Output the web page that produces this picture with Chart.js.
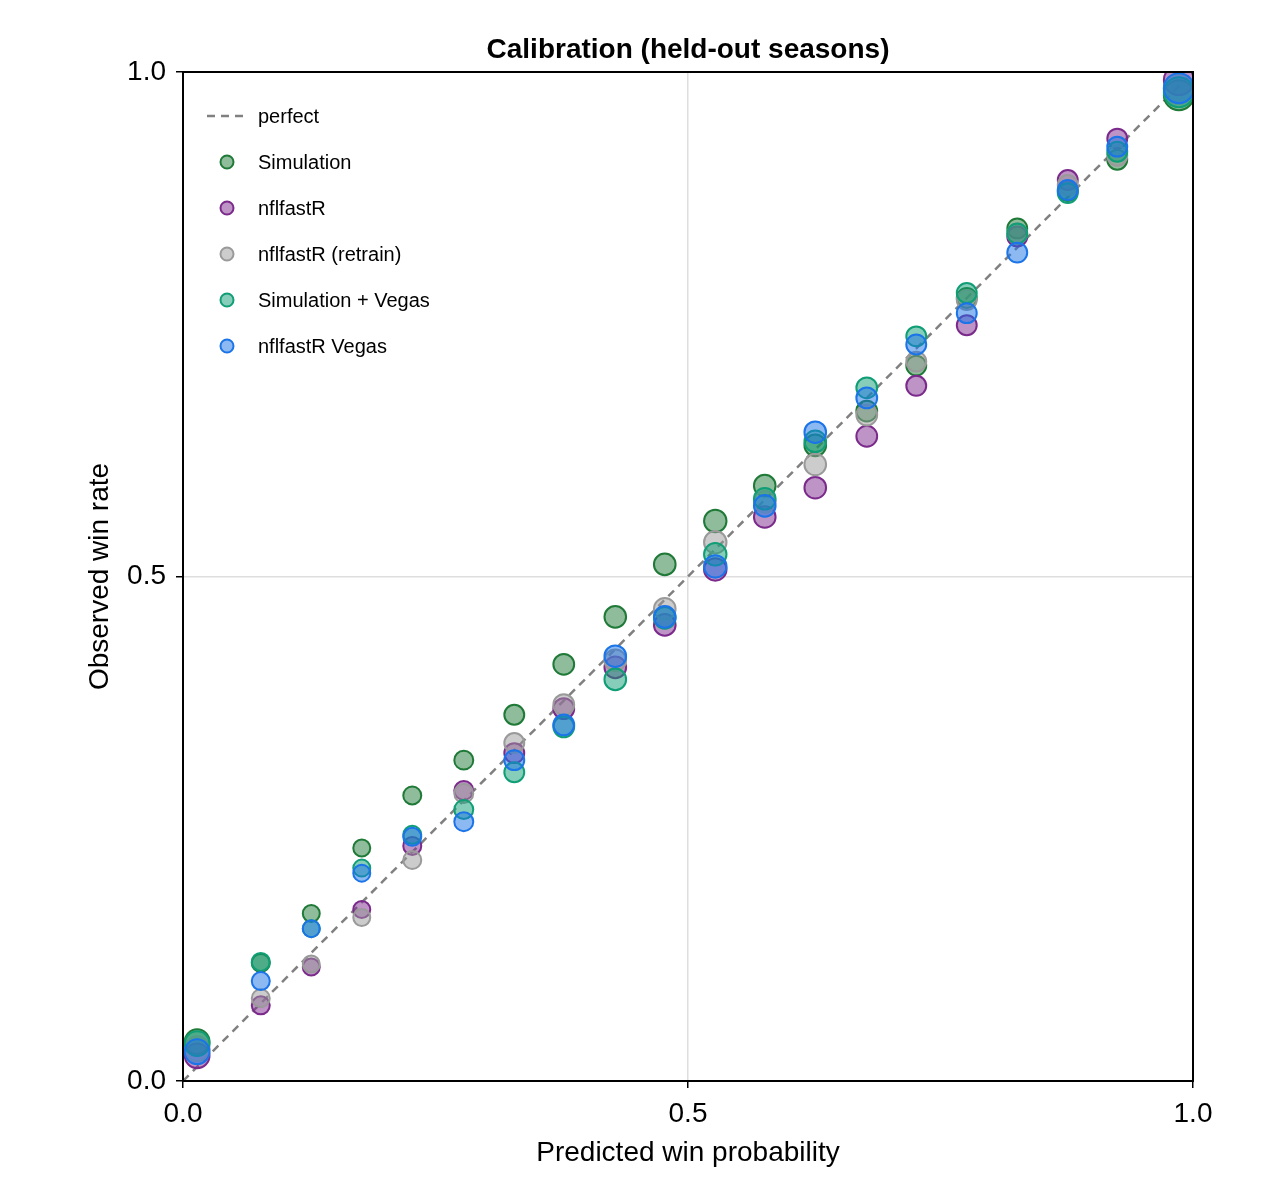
<!DOCTYPE html>
<html>
<head>
<meta charset="utf-8">
<script src="https://cdn.jsdelivr.net/npm/chart.js@4.4.1/dist/chart.umd.min.js"></script>
<style>
  body { margin: 0; background: #fff; }
  canvas { display: block; }
</style>
</head>
<body>
<canvas id="calib" width="1280" height="1200"></canvas>
<script>
// mean predicted probability per bin (x), shared by all models
const binX = [0.014, 0.077, 0.127, 0.177, 0.227, 0.278, 0.328, 0.377, 0.428, 0.477,
              0.527, 0.576, 0.626, 0.677, 0.726, 0.776, 0.826, 0.876, 0.925, 0.986];
// relative number of plays in each bin (drives marker size)
const binWeight = [17, 9, 8, 8, 9, 10, 11, 12, 13, 13, 14, 13, 13, 12, 11, 11, 11, 11, 11, 25];

// observed win rate per bin
const simY      = [0.039, 0.117, 0.166, 0.231, 0.283, 0.318, 0.363, 0.413, 0.460, 0.512,
                   0.555, 0.590, 0.630, 0.664, 0.709, 0.776, 0.845, 0.882, 0.913, 0.977];
const nflY      = [0.025, 0.075, 0.113, 0.170, 0.233, 0.288, 0.325, 0.369, 0.410, 0.452,
                   0.507, 0.559, 0.588, 0.639, 0.689, 0.749, 0.837, 0.893, 0.934, 0.992];
const retrainY  = [0.032, 0.082, 0.116, 0.162, 0.219, 0.285, 0.335, 0.373, 0.417, 0.468,
                   0.534, 0.574, 0.611, 0.660, 0.713, 0.774, 0.840, 0.888, 0.917, 0.983];
const simVegasY = [0.037, 0.118, 0.151, 0.211, 0.244, 0.269, 0.306, 0.351, 0.398, 0.459,
                   0.522, 0.577, 0.634, 0.687, 0.738, 0.781, 0.840, 0.880, 0.921, 0.980];
const nflVegasY = [0.029, 0.099, 0.151, 0.206, 0.242, 0.257, 0.318, 0.353, 0.421, 0.460,
                   0.510, 0.570, 0.643, 0.677, 0.730, 0.761, 0.821, 0.883, 0.926, 0.984];

const perfectX = [0, 1];
const perfectY = [0, 1];
const axisTicks = [0, 0.5, 1];

const seriesNames = ["Simulation", "nflfastR", "nflfastR (retrain)", "Simulation + Vegas", "nflfastR Vegas"];
const seriesY = [simY, nflY, retrainY, simVegasY, nflVegasY];
const strokeCols = ["#1f7a38", "#7b2a8c", "#9a9a9a", "#0f9e76", "#1b74e8"];
const fillCols = ["rgba(31,122,56,0.5)", "rgba(123,42,140,0.5)", "rgba(154,154,154,0.5)",
                  "rgba(15,158,118,0.5)", "rgba(27,116,232,0.5)"];

const FONT = "'Liberation Sans', Arial, sans-serif";

function toPoints(xs, ys){
    let pts = [];
    for(let i = 0; i < xs.length; i++) pts.push({x: xs[i], y: ys[i]});
    return pts;
}

let datasets = [{
    type: "line",
    label: "perfect",
    data: toPoints(perfectX, perfectY),
    borderColor: "#808080",
    borderWidth: 2.5,
    borderDash: [8, 6],
    pointRadius: 0,
    fill: false,
    order: 10
}];
for(let s = 0; s < seriesNames.length; s++){
    datasets.push({
        label: seriesNames[s],
        data: toPoints(binX, seriesY[s]),
        backgroundColor: fillCols[s],
        borderColor: strokeCols[s],
        borderWidth: 2,
        pointRadius: binWeight.map(w => 3 * Math.sqrt(w)),
        order: 5 - s
    });
}

//frame, title and the in-plot legend
const decor = {
    id: "decor",
    afterDraw(chart){
        const c = chart.ctx;
        const a = chart.chartArea;
        c.save();
        c.strokeStyle = "#000";
        c.lineWidth = 2;
        c.strokeRect(a.left, a.top, a.right - a.left, a.bottom - a.top);

        c.fillStyle = "#000";
        c.font = "bold 28px " + FONT;
        c.textAlign = "center";
        c.textBaseline = "middle";
        c.fillText("Calibration (held-out seasons)", (a.left + a.right) / 2, 50);

        c.font = "20px " + FONT;
        c.textAlign = "left";
        let y = 116;
        c.setLineDash([8, 6]);
        c.strokeStyle = "#808080";
        c.lineWidth = 2.5;
        c.beginPath();
        c.moveTo(207, y);
        c.lineTo(249, y);
        c.stroke();
        c.setLineDash([]);
        c.fillStyle = "#000";
        c.fillText("perfect", 258, y + 1);
        for(let s = 0; s < seriesNames.length; s++){
            y += 46;
            c.beginPath();
            c.arc(227, y, 6.5, 0, Math.PI * 2);
            c.fillStyle = fillCols[s];
            c.fill();
            c.lineWidth = 2;
            c.strokeStyle = strokeCols[s];
            c.stroke();
            c.fillStyle = "#000";
            c.fillText(seriesNames[s], 258, y + 1);
        }
        c.restore();
    }
};

function gridCol(ctx){
    return ctx.tick && ctx.tick.value === 0.5 ? "#dedede" : "rgba(0,0,0,0)";
}

new Chart(document.getElementById("calib"), {
    type: "scatter",
    data: { datasets: datasets },
    options: {
        responsive: false,
        animation: false,
        layout: { padding: { top: 72, right: 87, left: 0, bottom: 0 } },
        plugins: {
            legend: { display: false },
            tooltip: { enabled: false },
            title: { display: false }
        },
        scales: {
            x: {
                type: "linear",
                min: 0, max: 1,
                afterBuildTicks: (sc) => { sc.ticks = axisTicks.map(v => ({value: v})); },
                afterFit: (sc) => { sc.height = 119; },
                ticks: {
                    color: "#000",
                    font: { family: FONT, size: 28 },
                    padding: 9,
                    maxRotation: 0,
                    callback: (v) => v.toFixed(1)
                },
                grid: { color: gridCol, lineWidth: 1.5, tickColor: "#000", tickLength: 7, tickWidth: 1.5 },
                border: { display: true, color: "#000", width: 2 },
                title: {
                    display: true,
                    text: "Predicted win probability",
                    color: "#000",
                    font: { family: FONT, size: 28 },
                    padding: { top: 0, bottom: 30 }
                }
            },
            y: {
                type: "linear",
                min: 0, max: 1,
                afterBuildTicks: (sc) => { sc.ticks = axisTicks.map(v => ({value: v})); },
                afterFit: (sc) => { sc.width = 183; },
                ticks: {
                    color: "#000",
                    font: { family: FONT, size: 28 },
                    padding: 10,
                    callback: (v) => v.toFixed(1)
                },
                grid: { color: gridCol, lineWidth: 1.5, tickColor: "#000", tickLength: 7, tickWidth: 1.5 },
                border: { display: true, color: "#000", width: 2 },
                title: {
                    display: true,
                    text: "Observed win rate",
                    color: "#000",
                    font: { family: FONT, size: 28 },
                    padding: { top: 83, bottom: 0 }
                }
            }
        }
    },
    plugins: [decor]
});
</script>
</body>
</html>
